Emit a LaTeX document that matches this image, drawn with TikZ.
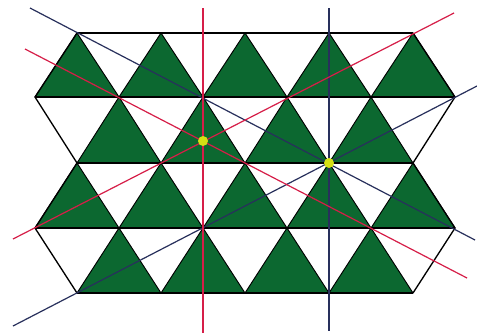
\documentclass[tikz,border=0pt]{standalone}
\definecolor{tgreen}{RGB}{12,104,48}
\definecolor{lred}{RGB}{214,30,72}
\definecolor{lblue}{RGB}{40,48,92}
\definecolor{dotyel}{RGB}{212,224,20}
\begin{document}
\begin{tikzpicture}[x=0.75pt,y=-0.75pt,
  tri/.style={fill=tgreen,draw=black,line width=0.7pt,line join=round},
  edge/.style={draw=black,line width=1pt},
  redline/.style={draw=lred,line width=0.9pt},
  blueline/.style={draw=lblue,line width=0.9pt},
  dot/.style={circle,fill=dotyel,inner sep=0pt,minimum size=7.5pt}]
\useasboundingbox (0,0) rectangle (477,333);
\fill[white] (0,0) rectangle (477,333);
% triangles
\foreach \k in {0,...,4}{
  \pgfmathsetmacro\ax{77+84*\k}
  \draw[tri] (\ax,33) -- (\ax-42,97) -- (\ax+42,97) -- cycle;
  \draw[tri] (\ax,163) -- (\ax-42,228) -- (\ax+42,228) -- cycle;
}
\foreach \k in {0,...,3}{
  \pgfmathsetmacro\ax{119+84*\k}
  \draw[tri] (\ax,97) -- (\ax-42,163) -- (\ax+42,163) -- cycle;
  \draw[tri] (\ax,228) -- (\ax-42,293) -- (\ax+42,293) -- cycle;
}
% outline vertices
\coordinate (t1) at (77,33);   \coordinate (t2) at (413,33);
\coordinate (l1) at (35,97);   \coordinate (r1) at (455,97);
\coordinate (l2) at (77,163);  \coordinate (r2) at (413,163);
\coordinate (l3) at (35,228);  \coordinate (r3) at (455,228);
\coordinate (b1) at (77,293);  \coordinate (b2) at (413,293);
\draw[edge] (t1) -- (t2);
\draw[edge] (l1) -- (r1);
\draw[edge] (l2) -- (r2);
\draw[edge] (l3) -- (r3);
\draw[edge] (b1) -- (b2);
\draw[edge] (t1) -- (l1) -- (l2) -- (l3) -- (b1);
\draw[edge] (t2) -- (r1) -- (r2) -- (r3) -- (b2);
% symmetry lines
\coordinate (rv1) at (202,8);   \coordinate (rv2) at (204,333);
\coordinate (ra1) at (25,49);   \coordinate (ra2) at (467,278);
\coordinate (rb1) at (13,239);  \coordinate (rb2) at (454,13);
\coordinate (bv1) at (328,8);   \coordinate (bv2) at (330,331);
\coordinate (ba1) at (30,8);    \coordinate (ba2) at (475,240);
\coordinate (bb1) at (13,326);  \coordinate (bb2) at (477,86);
\fill[lblue] (bv1) rectangle (bv2);
\draw[blueline] (ba1) -- (ba2);
\draw[blueline] (bb1) -- (bb2);
\fill[lred] (rv1) rectangle (rv2);
\draw[redline] (ra1) -- (ra2);
\draw[redline] (rb1) -- (rb2);
% centres
\node[dot] (c1) at (203,141) {};
\node[dot] (c2) at (329,163) {};
\end{tikzpicture}
\end{document}
